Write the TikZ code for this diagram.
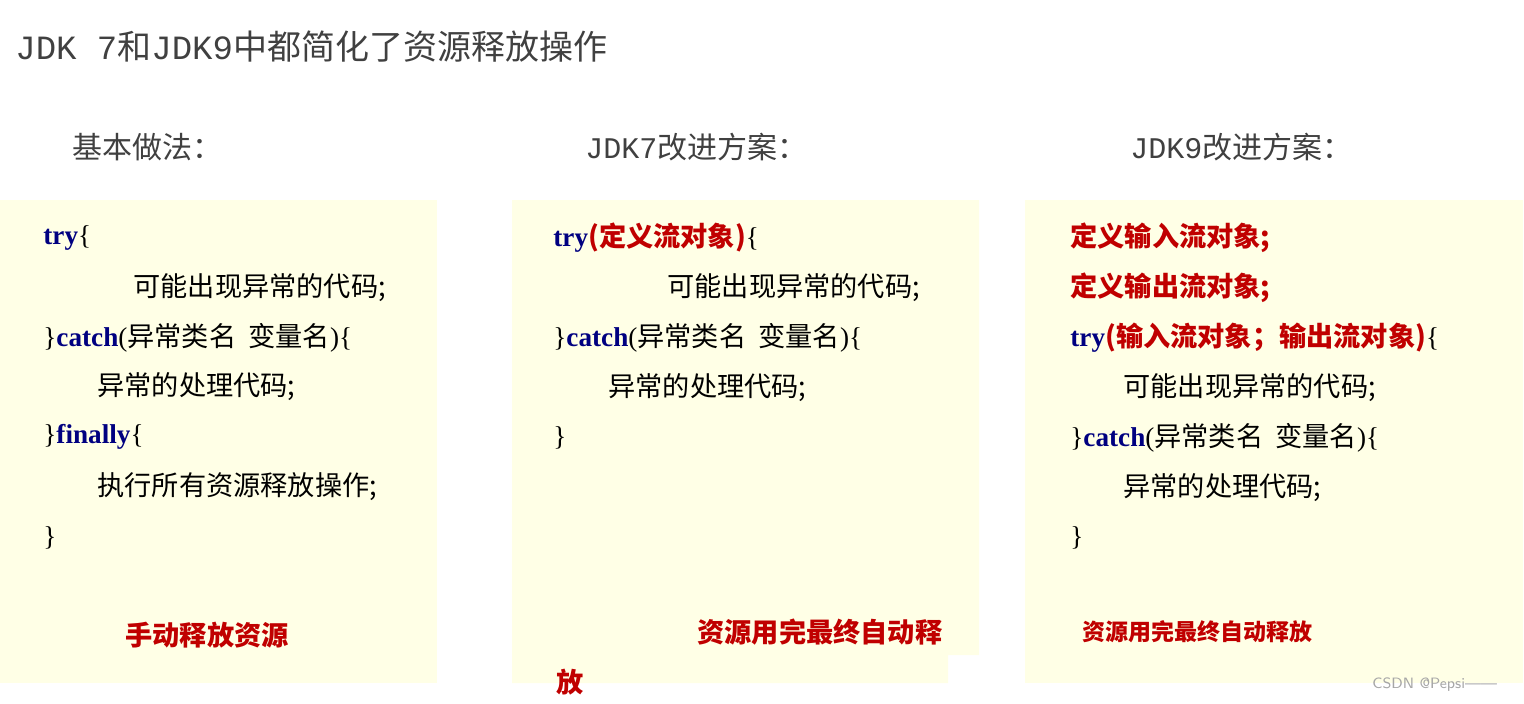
\documentclass[tikz,border=0pt]{standalone}
\usepackage{fontspec}
\setmainfont{Liberation Serif}
\newfontfamily\zh{Noto Sans CJK SC}
\newfontfamily\monof{Liberation Mono}
\definecolor{boxy}{HTML}{FFFFE6}
\definecolor{kw}{HTML}{000080}
\definecolor{rd}{HTML}{C00000}
\definecolor{tg}{HTML}{404040}
\newcommand{\kwd}[1]{\textcolor{kw}{\bfseries #1}}
\newcommand{\rz}[1]{\textcolor{rd}{\zh\bfseries #1}}
\tikzset{
  code/.style={anchor=west,inner sep=0pt,font=\fontsize{13.6}{15}\selectfont},
  head/.style={anchor=west,inner sep=0pt,font=\fontsize{15}{18}\selectfont\zh,text=tg},
  bg/.style={fill=boxy,draw=none}
}
\begin{document}
\begin{tikzpicture}[x=0.5pt,y=-0.5pt]
\useasboundingbox (0,0) rectangle (1524,703);
\fill[bg] (0,200) rectangle (437,683);
\fill[bg] (512,200) -- (979,200) -- (979,655) -- (948,655) -- (948,683) -- (512,683) -- cycle;
\fill[bg] (1025,200) rectangle (1523,683);
\node[anchor=west,inner sep=0pt,text=tg,font=\fontsize{17}{20}\selectfont] (title) at (15,47) {{\monof JDK 7}{\zh 和}{\monof JDK9}{\zh 中都简化了资源释放操作}};
\node[head] (h1) at (72,147) {基本做法：};
\node[head] (h2) at (585,147) {{\monof JDK7}改进方案：};
\node[head] (h3) at (1130,147) {{\monof JDK9}改进方案：};
% box 1
\node[code] (a1) at (43,238) {\kwd{try}\{};
\node[code] (a2) at (133,288) {\zh 可能出现异常的代码;};
\node[code] (a3) at (43,338) {\}\kwd{catch}({\zh 异常类名~~变量名})\{};
\node[code] (a4) at (97,387) {\zh 异常的处理代码;};
\node[code] (a5) at (43,437) {\}\kwd{finally}\{};
\node[code] (a6) at (97,487) {\zh 执行所有资源释放操作;};
\node[code] (a7) at (43,538) {\}};
\node[code] (a8) at (125,635) {\rz{手动释放资源}};
% box 2
\node[code] (b1) at (553,238) {\kwd{try}\rz{(定义流对象)}\{};
\node[code] (b2) at (667,288) {\zh 可能出现异常的代码;};
\node[code] (b3) at (553,338) {\}\kwd{catch}({\zh 异常类名~~变量名})\{};
\node[code] (b4) at (608,388) {\zh 异常的处理代码;};
\node[code] (b5) at (553,438) {\}};
\node[code] (b6) at (697,632) {\rz{资源用完最终自动释}};
\node[code] (b7) at (556,682) {\rz{放}};
% box 3
\node[code] (c1) at (1070,238) {\rz{定义输入流对象;}};
\node[code] (c2) at (1070,288) {\rz{定义输出流对象;}};
\node[code] (c3) at (1070,338) {\kwd{try}\rz{(输入流对象；输出流对象)}\{};
\node[code] (c4) at (1123,388) {\zh 可能出现异常的代码;};
\node[code] (c5) at (1070,438) {\}\kwd{catch}({\zh 异常类名~~变量名})\{};
\node[code] (c6) at (1123,488) {\zh 异常的处理代码;};
\node[code] (c7) at (1070,538) {\}};
\node[code,font=\fontsize{11.5}{13}\selectfont] (c8) at (1082,632) {\rz{资源用完最终自动释放}};
\node[anchor=west,inner sep=0pt,text=gray!70,font=\fontsize{7.5}{9}\selectfont\sffamily] (wm) at (1372,685) {CSDN @Pepsi——};
\end{tikzpicture}
\end{document}
